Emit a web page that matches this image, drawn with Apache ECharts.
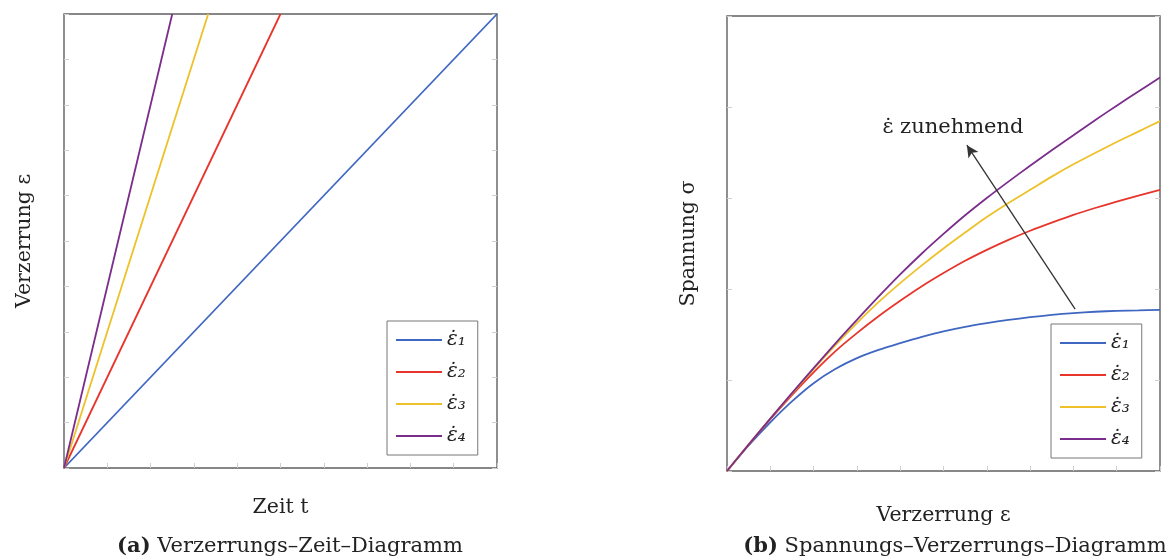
<!DOCTYPE html>
<html>
<head>
<meta charset="utf-8">
<script src="https://cdn.jsdelivr.net/npm/echarts@6/dist/echarts.min.js"></script>
<style>
html,body{margin:0;padding:0;background:#fff;}
#c{width:1170px;height:560px;}
</style>
</head>
<body>
<div id="c"></div>
<script>
// ---------- data ----------
const seriesNames = ['ε̇₁', 'ε̇₂', 'ε̇₃', 'ε̇₄'];
const colors = ['#3f67c1', '#e8352b', '#edc12a', '#7b2d8c'];

// (a) strain vs. time: straight lines from origin, end points [t, eps]
const leftStart = [0, 0];
const leftEnd = [[1, 1], [0.5, 1], [0.333, 1], [0.25, 1]];

// (b) stress vs. strain
const strainX = [0, 0.05, 0.1, 0.15, 0.2, 0.25, 0.3, 0.35, 0.4, 0.45, 0.5, 0.55, 0.6, 0.65, 0.7, 0.75, 0.8, 0.85, 0.9, 0.95, 1];
const stress1 = [0, 0.056, 0.107, 0.153, 0.193, 0.224, 0.248, 0.266, 0.281, 0.295, 0.307, 0.317, 0.325, 0.332, 0.338, 0.343, 0.347, 0.350, 0.352, 0.353, 0.354];
const stress2 = [0, 0.058, 0.114, 0.167, 0.217, 0.263, 0.303, 0.340, 0.374, 0.406, 0.435, 0.462, 0.486, 0.508, 0.528, 0.546, 0.563, 0.578, 0.592, 0.605, 0.618];
const stress3 = [0, 0.058, 0.115, 0.170, 0.224, 0.276, 0.325, 0.371, 0.413, 0.452, 0.489, 0.524, 0.558, 0.589, 0.618, 0.647, 0.674, 0.699, 0.723, 0.746, 0.769];
const stress4 = [0, 0.058, 0.115, 0.171, 0.226, 0.280, 0.332, 0.383, 0.432, 0.478, 0.521, 0.562, 0.600, 0.636, 0.671, 0.705, 0.738, 0.771, 0.803, 0.834, 0.865];
const stressSets = [stress1, stress2, stress3, stress4];

// annotation (data coordinates of plot b)
const arrowFrom = [0.804, 0.356];
const arrowTo = [0.554, 0.716];
const annoPos = [0.522, 0.754];
const annoText = 'ε̇ zunehmend';

const xNameA = 'Zeit t', yNameA = 'Verzerrung ε';
const xNameB = 'Verzerrung ε', yNameB = 'Spannung σ';
const captionA = ['(a)', 'Verzerrungs–Zeit–Diagramm'];
const captionB = ['(b)', 'Spannungs–Verzerrungs–Diagramm'];

// ---------- chart ----------
const FONT = 'DejaVu Serif';
const chart = echarts.init(document.getElementById('c'), null, {renderer: 'canvas'});

const tick = {show: true, inside: true, length: 5, lineStyle: {color: '#cfcfcf', width: 1}};
function axis(gridIndex, extra) {
  return Object.assign({
    type: 'value', gridIndex, min: 0, max: 1,
    axisLine: {show: false}, axisLabel: {show: false}, splitLine: {show: false},
    axisTick: tick,
    nameTextStyle: {fontFamily: FONT, fontSize: 20.5, color: '#222'}
  }, extra);
}

const series = [];
leftEnd.forEach((e, i) => {
  series.push({
    name: seriesNames[i], type: 'line', xAxisIndex: 0, yAxisIndex: 0,
    data: [leftStart, e], showSymbol: false, symbol: 'none',
    lineStyle: {color: colors[i], width: 1.8}, itemStyle: {color: colors[i]},
    clip: true, animation: false
  });
});
stressSets.forEach((s, i) => {
  series.push({
    name: seriesNames[i], type: 'line', xAxisIndex: 1, yAxisIndex: 2,
    data: strainX.map((x, k) => [x, s[k]]), smooth: 0.3,
    showSymbol: false, symbol: 'none',
    lineStyle: {color: colors[i], width: 1.8}, itemStyle: {color: colors[i]},
    clip: true, animation: false
  });
});
// annotation arrow + text
series.push({
  type: 'line', xAxisIndex: 1, yAxisIndex: 2, data: [], animation: false,
  markLine: {
    silent: true, symbol: ['none', 'arrow'], symbolSize: [9, 12],
    label: {show: false},
    lineStyle: {color: '#333', width: 1.3, type: 'solid'},
    data: [[{coord: arrowFrom}, {coord: arrowTo}]],
    animation: false
  },
  markPoint: {
    silent: true, symbol: 'circle', symbolSize: 0,
    label: {show: true, formatter: annoText, fontFamily: FONT, fontSize: 21, color: '#222', position: 'inside'},
    data: [{coord: annoPos}],
    animation: false
  }
});

const legendBase = {
  orient: 'vertical', data: seriesNames, selectedMode: false,
  icon: 'rect', itemWidth: 46, itemHeight: 2, itemGap: 12,
  borderColor: '#777', borderWidth: 1, borderRadius: 0,
  backgroundColor: '#fff',
  textStyle: {fontFamily: FONT, fontSize: 20, fontStyle: 'italic', color: '#222'}
};

chart.setOption({
  animation: false,
  backgroundColor: '#fff',
  grid: [
    {left: 64, top: 14, width: 433, height: 454, show: true, borderColor: '#606060', borderWidth: 1.4, backgroundColor: 'transparent'},
    {left: 727, top: 16, width: 433, height: 455, show: true, borderColor: '#606060', borderWidth: 1.4, backgroundColor: 'transparent'}
  ],
  xAxis: [
    axis(0, {interval: 0.1, name: xNameA, nameLocation: 'middle', nameGap: 29}),
    axis(1, {interval: 0.1, name: xNameB, nameLocation: 'middle', nameGap: 34})
  ],
  yAxis: [
    axis(0, {interval: 0.1, name: yNameA, nameLocation: 'middle', nameGap: 29}),
    axis(0, {interval: 0.1, position: 'right'}),
    axis(1, {interval: 0.2, name: yNameB, nameLocation: 'middle', nameGap: 28}),
    axis(1, {interval: 0.2, position: 'right'})
  ],
  legend: [
    Object.assign({}, legendBase, {left: 387, top: 321, padding: [9, 12, 9, 9]}),
    Object.assign({}, legendBase, {left: 1051, top: 324, padding: [9, 12, 9, 9]})
  ],
  graphic: [
    {type: 'text', x: 290, y: 547, style: {
      text: '{b|' + captionA[0] + '} ' + captionA[1],
      rich: {b: {fontWeight: 'bold', fontFamily: FONT, fontSize: 21}},
      fontFamily: FONT, fontSize: 21, fill: '#222', align: 'center', verticalAlign: 'middle'}},
    {type: 'text', x: 955, y: 547, style: {
      text: '{b|' + captionB[0] + '} ' + captionB[1],
      rich: {b: {fontWeight: 'bold', fontFamily: FONT, fontSize: 21}},
      fontFamily: FONT, fontSize: 21, fill: '#222', align: 'center', verticalAlign: 'middle'}}
  ],
  series
});
</script>
</body>
</html>
